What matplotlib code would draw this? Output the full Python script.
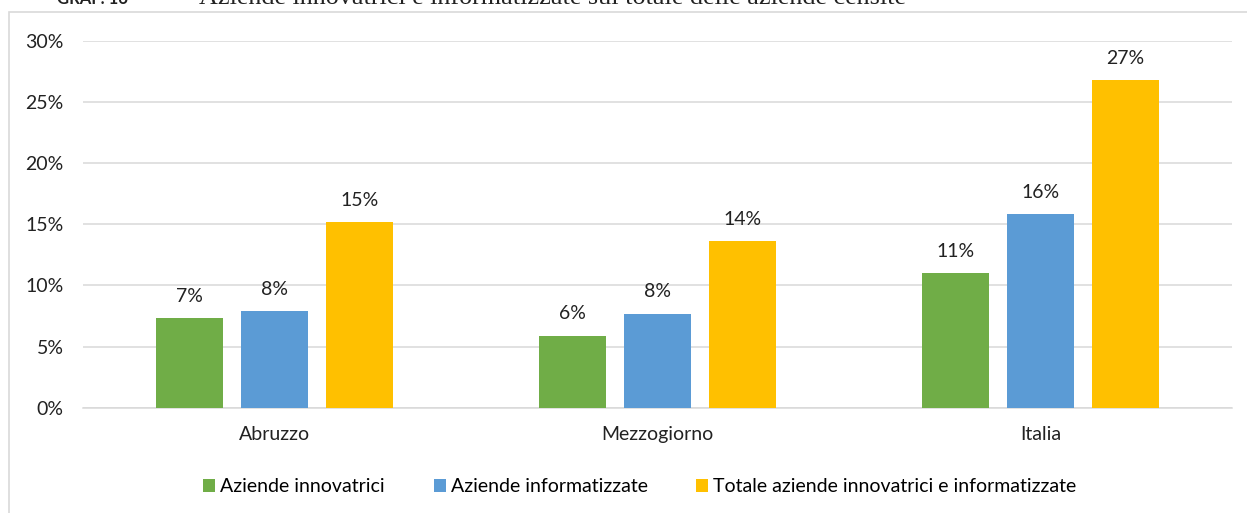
import matplotlib.pyplot as plt
import numpy as np
from matplotlib.patches import Rectangle

plt.rcParams['font.family'] = ['Lato', 'DejaVu Sans']

categories = ['Abruzzo', 'Mezzogiorno', 'Italia']
series_names = ['Aziende innovatrici', 'Aziende informatizzate',
                'Totale aziende innovatrici e informatizzate']
innovatrici = [7.3, 5.9, 11.0]
informatizzate = [7.9, 7.7, 15.8]
totale = [15.2, 13.6, 26.8]
labels = [['7%', '6%', '11%'], ['8%', '8%', '16%'], ['15%', '14%', '27%']]
colors = ['#70AD47', '#5B9BD5', '#FFC000']
yticks = [0, 5, 10, 15, 20, 25, 30]

W, H = 1247, 513
fig = plt.figure(figsize=(W / 100, H / 100), dpi=100)
ax = fig.add_axes([83 / W, 1 - 407.7 / H, (1232 - 83) / W, (407.7 - 40.7) / H])

# cornice del grafico (tagliata a destra e in basso)
fig.patches.append(Rectangle((9 / W, -0.1), 1.2, 1 - 12 / H + 0.1,
                             transform=fig.transFigure, fill=False,
                             edgecolor='#d9d9d9', linewidth=1.2))

# titolo tagliato in alto
fig.text(57 / W, 1 - 4 / H, 'GRAF. 16 -', fontsize=12, fontweight='bold',
         va='baseline', ha='left', color='#222222')
fig.text(199 / W, 1 - 4 / H,
         'Aziende innovatrici e informatizzate sul totale delle aziende censite',
         fontsize=18.8, family='Liberation Serif', va='baseline', ha='left',
         color='#222222')

x = np.arange(len(categories))
width = 0.175
step = 0.222
data = [innovatrici, informatizzate, totale]
for i, (vals, col, name) in enumerate(zip(data, colors, series_names)):
    bars = ax.bar(x + (i - 1) * step, vals, width, color=col, label=name, zorder=3)
    for b, lab in zip(bars, labels[i]):
        ax.annotate(lab, (b.get_x() + b.get_width() / 2, b.get_height()),
                    xytext=(0, 9.5), textcoords='offset points',
                    ha='center', va='bottom', fontsize=14, color='#222222')

ax.set_xlim(-0.5, 2.5)
ax.set_ylim(0, 30)
ax.set_yticks(yticks)
ax.set_yticklabels([f'{t}%' for t in yticks])
ax.set_xticks(x)
ax.set_xticklabels(categories)
ax.tick_params(axis='y', length=0, pad=14, labelsize=14, labelcolor='#222222')
ax.tick_params(axis='x', length=0, pad=13, labelsize=14, labelcolor='#222222')
ax.grid(axis='y', color='#d9d9d9', linewidth=1.1, zorder=0)
for s in ['top', 'right', 'left']:
    ax.spines[s].set_visible(False)
ax.spines['bottom'].set_color('#d9d9d9')
ax.spines['bottom'].set_linewidth(1.1)

fig.legend(loc='center', bbox_to_anchor=(640 / W, 1 - 487 / H), ncol=3,
           frameon=False, fontsize=14, handlelength=0.62, handleheight=0.62,
           handletextpad=0.26, columnspacing=2.5)

fig.savefig('out.png', dpi=100)
